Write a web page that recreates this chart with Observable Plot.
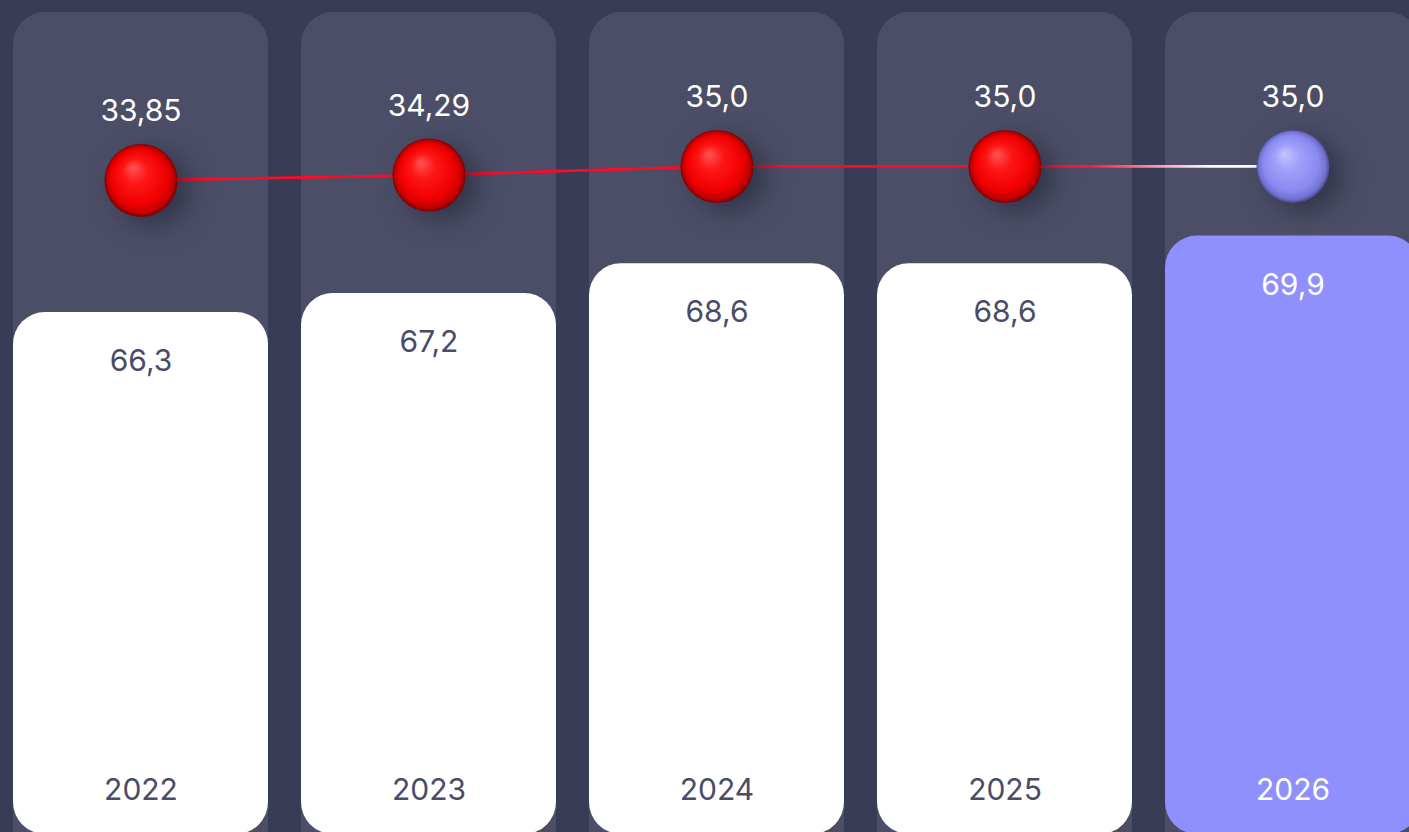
<!DOCTYPE html>
<html>
<head>
<meta charset="utf-8">
<script src="https://cdn.jsdelivr.net/npm/d3@7"></script>
<script src="https://cdn.jsdelivr.net/npm/@observablehq/plot@0.6"></script>
<style>
  html, body { margin: 0; padding: 0; background: #393c56; }
  #chart { position: relative; width: 1409px; height: 832px; overflow: hidden; background: #393c56; }
  #chart svg { position: absolute; left: 0; top: 0; overflow: hidden; }
</style>
</head>
<body>
<div id="chart"></div>
<script>
// ---- data ----
const years = ["2022", "2023", "2024", "2025", "2026"];
const barValues = [66.3, 67.2, 68.6, 68.6, 69.9];
const lineValues = [33.85, 34.29, 35.0, 35.0, 35.0];
const forecast = [false, false, false, false, true];

// ---- helpers ----
const fmt = v => (Number.isInteger(v) ? v.toFixed(1) : String(v)).replace(".", ",");
const bars = years.map((year, i) => ({year, value: barValues[i], forecast: forecast[i]}));
const points = years.map((year, i) => ({year, value: lineValues[i], forecast: forecast[i]}));

const W = 1409, H = 832;
const xOpts = {type: "band", domain: years, range: [12, 1422], paddingInner: 0.113, paddingOuter: 0, axis: null};
const barDomain = [41.8, 81.0];
const lineDomain = [-19.6, 48.6];
const font = "Inter, 'Noto Sans', sans-serif";
const ink = "#4a4c67";
const purple = "#8f8ffd";
const red = "#ff0a26";

// ---- bars layer ----
const barPlot = Plot.plot({
  width: W, height: H,
  margin: 0,
  style: {background: "transparent", fontFamily: font},
  x: xOpts,
  y: {domain: barDomain, axis: null},
  color: {type: "identity"},
  marks: [
    // background panels
    Plot.barY(years, {x: d => d, y1: barDomain[0], y2: barDomain[1], insetTop: 12, insetBottom: -40, rx: 32, fill: "#4b4e66"}),
    // bars
    Plot.barY(bars, {x: "year", y1: barDomain[0], y2: "value", insetBottom: -2, rx: 32,
      fill: d => d.forecast ? purple : "#ffffff"}),
    // value labels
    Plot.text(bars, {x: "year", y: "value", text: d => fmt(d.value), dy: 49, fontSize: 30,
      fill: d => d.forecast ? "#ffffff" : ink}),
    // year labels
    Plot.text(bars, {x: "year", y: barDomain[0], text: "year", dy: -42, fontSize: 30,
      fill: d => d.forecast ? "#ffffff" : ink})
  ]
});

// ---- line layer ----
const linePlot = Plot.plot({
  width: W, height: H,
  margin: 0,
  style: {background: "transparent", fontFamily: font},
  x: xOpts,
  y: {domain: lineDomain, axis: null},
  color: {type: "identity"},
  marks: [
    Plot.line(points.filter((d, i) => i <= 3), {x: "year", y: "value", stroke: red, strokeWidth: 2.8}),
    Plot.line(points.filter((d, i) => i >= 3), {x: "year", y: "value", stroke: "url(#fadeLine)", strokeWidth: 2.8}),
    Plot.dot(points, {x: "year", y: "value", r: 36.5, stroke: "none",
      fill: d => d.forecast ? "url(#purpleSphere)" : "url(#redSphere)"}),
    Plot.text(points, {x: "year", y: "value", text: d => fmt(d.value), dy: -69, fontSize: 30, fill: "#ffffff"})
  ]
});

const container = document.getElementById("chart");
container.appendChild(barPlot);
container.appendChild(linePlot);

// gradients & shadows (line paths are drawn in band-start space, shifted by a group transform)
const xs = linePlot.scale("x");
const xa = xs.apply(years[3]);
const xb = xs.apply(years[4]);
const svg = d3.select(linePlot);
svg.insert("defs", ":first-child").html(`
  <radialGradient id="redSphere" cx="0.5" cy="0.5" r="0.5" fx="0.38" fy="0.32">
    <stop offset="0" stop-color="#ff5656"/>
    <stop offset="0.35" stop-color="#ff1515"/>
    <stop offset="0.75" stop-color="#f00000"/>
    <stop offset="0.92" stop-color="#c00000"/>
    <stop offset="1" stop-color="#7a0000"/>
  </radialGradient>
  <radialGradient id="purpleSphere" cx="0.5" cy="0.5" r="0.5" fx="0.38" fy="0.32">
    <stop offset="0" stop-color="#c4c4ff"/>
    <stop offset="0.35" stop-color="#a0a0fb"/>
    <stop offset="0.75" stop-color="#8a8af0"/>
    <stop offset="0.92" stop-color="#7272d4"/>
    <stop offset="1" stop-color="#4a4a88"/>
  </radialGradient>
  <linearGradient id="fadeLine" gradientUnits="userSpaceOnUse" x1="${xa}" y1="0" x2="${xb}" y2="0">
    <stop offset="0" stop-color="${red}"/>
    <stop offset="0.3" stop-color="#ff1a3a"/>
    <stop offset="0.72" stop-color="#ffffff"/>
    <stop offset="1" stop-color="#ffffff"/>
  </linearGradient>
`);
svg.selectAll("circle").style("filter", "drop-shadow(12px 8px 12px rgba(25,25,45,0.5))");
</script>
</body>
</html>
